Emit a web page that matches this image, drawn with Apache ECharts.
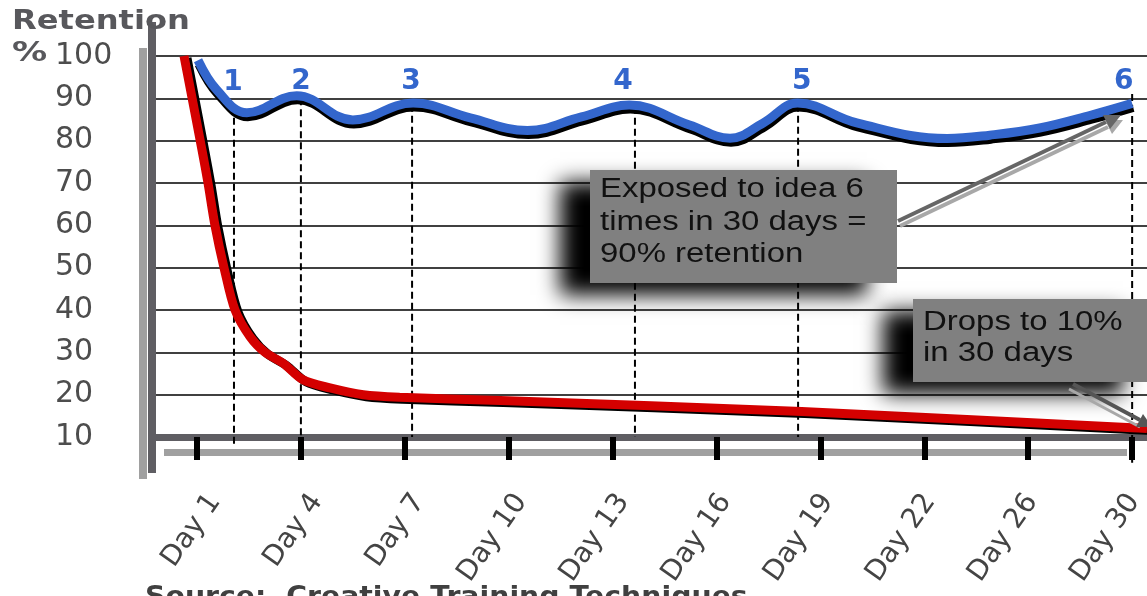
<!DOCTYPE html>
<html><head><meta charset="utf-8">
<script src="https://cdn.jsdelivr.net/npm/echarts@6/dist/echarts.min.js"></script>
<style>html,body{margin:0;padding:0;background:#fff}#c{width:1147px;height:596px}</style>
</head><body><div id="c"></div>
<script>
// Category labels (Day axis) and y ticks
const dayLabels = ['Day 1', 'Day 4', 'Day 7', 'Day 10', 'Day 13', 'Day 16', 'Day 19', 'Day 22', 'Day 26', 'Day 30'];
const dayTickIndex = [0, 1, 2, 3, 4, 5, 6, 7, 8, 9];
const yMin = 10, yMax = 100, yStep = 10;

// Curves: [position along day axis (category index), retention %]
const repeatedExposure = [
  [0.01, 99], [0.19, 92], [0.48, 86.6], [0.96, 90.6], [1.5, 84.9], [2.08, 88.9],
  [2.63, 85.4], [3.18, 82.4], [3.7, 85.6], [4.16, 88.4], [4.74, 83.7], [5.13, 80.6],
  [5.45, 84.2], [5.78, 88.9], [6.35, 84.2], [7.22, 80.5], [7.63, 81.3], [8.11, 83.0],
  [8.6, 86.0], [9.0, 88.8]
];
const singleExposure = [
  [-0.125, 100], [0.048, 77.8], [0.106, 70], [0.173, 60], [0.26, 50], [0.366, 40],
  [0.51, 33.7], [0.654, 30], [0.83, 27.4], [1.02, 23.5], [1.28, 21.6], [1.6, 20],
  [1.95, 19.4], [2.92, 18.6], [5.82, 16.0], [9.0, 12.2], [9.143, 12.0]
];

// Exposure markers
const exposureNames = ['1', '2', '3', '4', '5', '6'];
const exposureLineAt = [0.356, 1.0, 2.07, 4.215, 5.785, 9.0];
const exposureLineTop = [88, 90, 88.5, 88, 88.5, 91];
const exposureLineBottom = [8.1, 10, 10, 10, 10, 3.9];
const exposureLabelAt = [0.346, 1.0, 2.06, 4.1, 5.82, 8.92];
const exposureLabelValue = [93.6, 93.9, 93.9, 93.9, 93.9, 93.9];

const xRange = [-0.433, 9.143];

const chart = echarts.init(document.getElementById('c'));

const dashSeries = exposureLineAt.map((t, i) => ({
  type: 'line', xAxisIndex: 0, yAxisIndex: 0, clip: false, symbol: 'none', silent: true, z: 2,
  data: [[t, exposureLineTop[i]], [t, exposureLineBottom[i]]],
  lineStyle: { color: '#000', width: 2, type: [7, 4] }
}));

const option = {
  animation: false,
  backgroundColor: '#fff',
  grid: [
    { left: 152, right: 0, top: 56, bottom: 159, containLabel: false, outerBoundsMode: 'none' },
    { left: 215, right: 13, top: 56, bottom: 159, containLabel: false, outerBoundsMode: 'none' }
  ],
  xAxis: [
    {
      type: 'value', gridIndex: 0, min: xRange[0], max: xRange[1],
      axisLine: { show: true, lineStyle: { color: '#5f5e63', width: 7 } },
      axisTick: { show: true, customValues: dayTickIndex, length: 23, lineStyle: { color: '#000', width: 6 } },
      axisLabel: { show: false },
      splitLine: { show: false }
    },
    {
      type: 'category', gridIndex: 1, data: dayLabels, boundaryGap: false,
      axisLine: { show: false }, axisTick: { show: false }, splitLine: { show: false },
      axisLabel: { interval: 0, rotate: 55, margin: 60, fontSize: 28, color: '#444', fontFamily: 'DejaVu Sans' }
    }
  ],
  yAxis: [
    {
      type: 'value', gridIndex: 0, min: yMin, max: yMax, interval: yStep,
      axisLine: { show: false }, axisTick: { show: false },
      splitLine: { show: true, lineStyle: { color: '#000', width: 1.5 } },
      axisLabel: { align: 'left', margin: 97, fontSize: 30, color: '#4d4d4d', fontFamily: 'DejaVu Sans' }
    },
    { type: 'value', gridIndex: 1, min: yMin, max: yMax, show: false }
  ],
  series: [
    ...dashSeries,
    {
      type: 'line', name: 'Repeated exposure', xAxisIndex: 0, yAxisIndex: 0, data: repeatedExposure,
      smooth: 0.4, symbol: 'none', z: 4,
      lineStyle: { color: '#3366cc', width: 9, shadowColor: '#000', shadowBlur: 0.5, shadowOffsetX: 1, shadowOffsetY: 4 }
    },
    {
      type: 'line', name: 'Single exposure', xAxisIndex: 0, yAxisIndex: 0, data: singleExposure,
      smooth: 0.3, symbol: 'none', z: 5,
      lineStyle: { color: '#d40000', width: 9, shadowColor: '#000', shadowBlur: 0.5, shadowOffsetX: 3, shadowOffsetY: 2 }
    },
    {
      type: 'scatter', xAxisIndex: 0, yAxisIndex: 0, z: 6, silent: true,
      symbolSize: 0, itemStyle: { color: '#3366cc', opacity: 0 },
      data: exposureNames.map((n, i) => [exposureLabelAt[i], exposureLabelValue[i], n]),
      label: {
        show: true, position: 'inside', formatter: p => p.value[2], opacity: 1,
        fontSize: 28, fontWeight: 'bold', color: '#3366cc', fontFamily: 'DejaVu Sans',
        textBorderWidth: 0, textShadowBlur: 0
      }
    }
  ],
  graphic: [
    { type: 'rect', z: 1, shape: { x: 139, y: 48, width: 8, height: 431 }, style: { fill: '#a0a0a0' } },
    { type: 'rect', z: 1, shape: { x: 148, y: 22, width: 8, height: 451 }, style: { fill: '#5f5e63' } },
    { type: 'rect', z: -1, shape: { x: 164, y: 449, width: 963, height: 7 }, style: { fill: '#a0a0a0' } },
    { type: 'text', z: 10, x: 12, y: 8, scaleX: 1.19, style: { text: 'Retention', font: 'bold 27px "DejaVu Sans"', fill: '#58585c', verticalAlign: 'top', align: 'left' } },
    { type: 'text', z: 10, x: 12, y: 40, scaleX: 1.3, style: { text: '%', font: 'bold 27px "DejaVu Sans"', fill: '#58585c', verticalAlign: 'top', align: 'left' } },
    { type: 'text', z: 10, x: 145, y: 584, scaleX: 1.05, style: { text: 'Source:  Creative Training Techniques', font: 'bold 27px "DejaVu Sans"', fill: '#404040', verticalAlign: 'top', align: 'left' } },
    // Callout 1
    { type: 'rect', z: 50, shape: { x: 590, y: 170, width: 307, height: 113 }, style: { fill: '#808080', shadowColor: '#000', shadowBlur: 20, shadowOffsetX: -30, shadowOffsetY: 12 } },
    { type: 'text', z: 51, x: 600, y: 222.5, scaleX: 1.22, style: { text: 'Exposed to idea 6\ntimes in 30 days =\n90% retention', font: '27px "Liberation Sans"', fill: '#111', lineHeight: 32.5, verticalAlign: 'middle', align: 'left' } },
    // Callout 2
    { type: 'rect', z: 50, shape: { x: 913, y: 299, width: 240, height: 83 }, style: { fill: '#808080', shadowColor: '#000', shadowBlur: 20, shadowOffsetX: -30, shadowOffsetY: 12 } },
    { type: 'text', z: 51, x: 923, y: 338, scaleX: 1.22, style: { text: 'Drops to 10%\nin 30 days', font: '27px "Liberation Sans"', fill: '#111', lineHeight: 31, verticalAlign: 'middle', align: 'left' } },
    // Arrow 1
    { type: 'line', z: 52, shape: { x1: 900, y1: 226, x2: 1108, y2: 127 }, style: { stroke: '#a8a8a8', lineWidth: 4 } },
    { type: 'polygon', z: 52, shape: { points: [[1123, 120], [1112, 134], [1105, 120]] }, style: { fill: '#a8a8a8' } },
    { type: 'line', z: 53, shape: { x1: 898, y1: 221, x2: 1106, y2: 122 }, style: { stroke: '#666', lineWidth: 4 } },
    { type: 'polygon', z: 53, shape: { points: [[1121, 115], [1110, 129], [1103, 115]] }, style: { fill: '#666' } },
    // Arrow 2
    { type: 'line', z: 52, shape: { x1: 1069, y1: 389, x2: 1140, y2: 427 }, style: { stroke: '#a8a8a8', lineWidth: 3 } },
    { type: 'line', z: 53, shape: { x1: 1073, y1: 384, x2: 1140, y2: 420 }, style: { stroke: '#555', lineWidth: 4 } },
    { type: 'polygon', z: 53, shape: { points: [[1152, 427], [1136, 427], [1143, 414]] }, style: { fill: '#555' } }
  ]
};
chart.setOption(option);
</script>
</body></html>
